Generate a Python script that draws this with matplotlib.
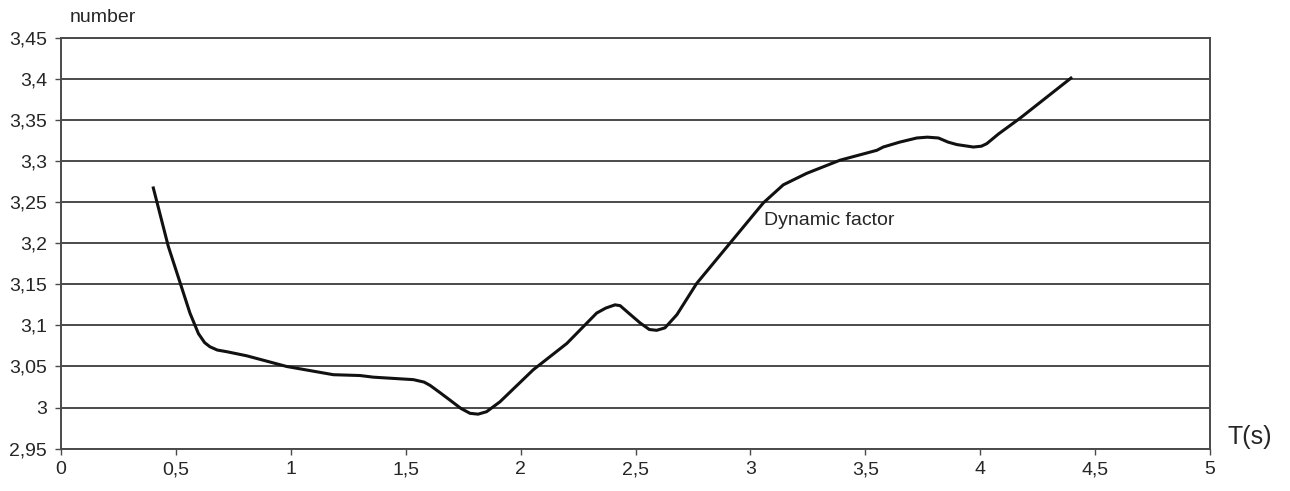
import matplotlib
matplotlib.use("Agg")
import matplotlib.pyplot as plt

# curve
t = [0.40, 0.467, 0.51, 0.561, 0.598, 0.625, 0.648, 0.68, 0.721, 0.808, 0.982, 1.185,
     1.301, 1.359, 1.533, 1.58, 1.606, 1.65, 1.693, 1.74, 1.78, 1.815, 1.852, 1.91,
     2.055, 2.201, 2.331, 2.37, 2.411, 2.433, 2.47, 2.52, 2.56, 2.592, 2.628, 2.68,
     2.766, 2.911, 3.056, 3.143, 3.245, 3.39, 3.55, 3.578, 3.65, 3.724, 3.77, 3.818,
     3.86, 3.898, 3.97, 4.005, 4.028, 4.08, 4.173, 4.40]
dyn = [3.269, 3.196, 3.159, 3.115, 3.090, 3.079, 3.074, 3.070, 3.068, 3.063, 3.050,
       3.040, 3.039, 3.037, 3.034, 3.031, 3.027, 3.018, 3.009, 2.999, 2.993, 2.992,
       2.995, 3.007, 3.046, 3.078, 3.115, 3.121, 3.125, 3.124, 3.115, 3.103, 3.095,
       3.094, 3.097, 3.113, 3.151, 3.200, 3.249, 3.271, 3.285, 3.301, 3.313, 3.317,
       3.323, 3.328, 3.329, 3.328, 3.323, 3.320, 3.317, 3.318, 3.321, 3.333, 3.352,
       3.402]

x_ticks = [0, 0.5, 1, 1.5, 2, 2.5, 3, 3.5, 4, 4.5, 5]
x_labels = ["0", "0,5", "1", "1,5", "2", "2,5", "3", "3,5", "4", "4,5", "5"]
y_ticks = [2.95, 3.0, 3.05, 3.1, 3.15, 3.2, 3.25, 3.3, 3.35, 3.4, 3.45]
y_labels = ["2,95", "3", "3,05", "3,1", "3,15", "3,2", "3,25", "3,3", "3,35", "3,4", "3,45"]

plt.rcParams["font.family"] = ["Liberation Sans", "DejaVu Sans"]

fig = plt.figure(figsize=(12.9, 4.91), dpi=100)
ax = fig.add_axes([0.0473, 0.0862, 0.8907, 0.837])

grid_c = "#4a4a4a"
txt_c = "#262626"
ax.set_xlim(0, 5)
ax.set_ylim(2.95, 3.45)
ax.set_xticks(x_ticks, x_labels)
ax.set_yticks(y_ticks, y_labels)
for y in y_ticks:
    ax.axhline(y, color=grid_c, lw=1.4, zorder=1)
for s in ax.spines.values():
    s.set_color(grid_c)
    s.set_linewidth(1.4)
ax.tick_params(axis="both", colors=grid_c, labelcolor=txt_c, labelsize=14,
               length=4, width=1)
ax.tick_params(axis="x", pad=5)
ax.tick_params(axis="y", pad=6)

ax.plot(t, dyn, color="#111111", lw=2.2, zorder=3,
        solid_joinstyle="round", solid_capstyle="butt")
ax.text(3.06, 3.228, "Dynamic factor", fontsize=14, color=txt_c,
        va="center", ha="left")

fig.text(70 / 1290, 1 - 17 / 491, "number", fontsize=14, color=txt_c,
         va="center", ha="left")
fig.text(1228 / 1290, 1 - 437 / 491, "T(s)", fontsize=18, color=txt_c,
         va="center", ha="left")

fig.savefig("out.png", dpi=100)
